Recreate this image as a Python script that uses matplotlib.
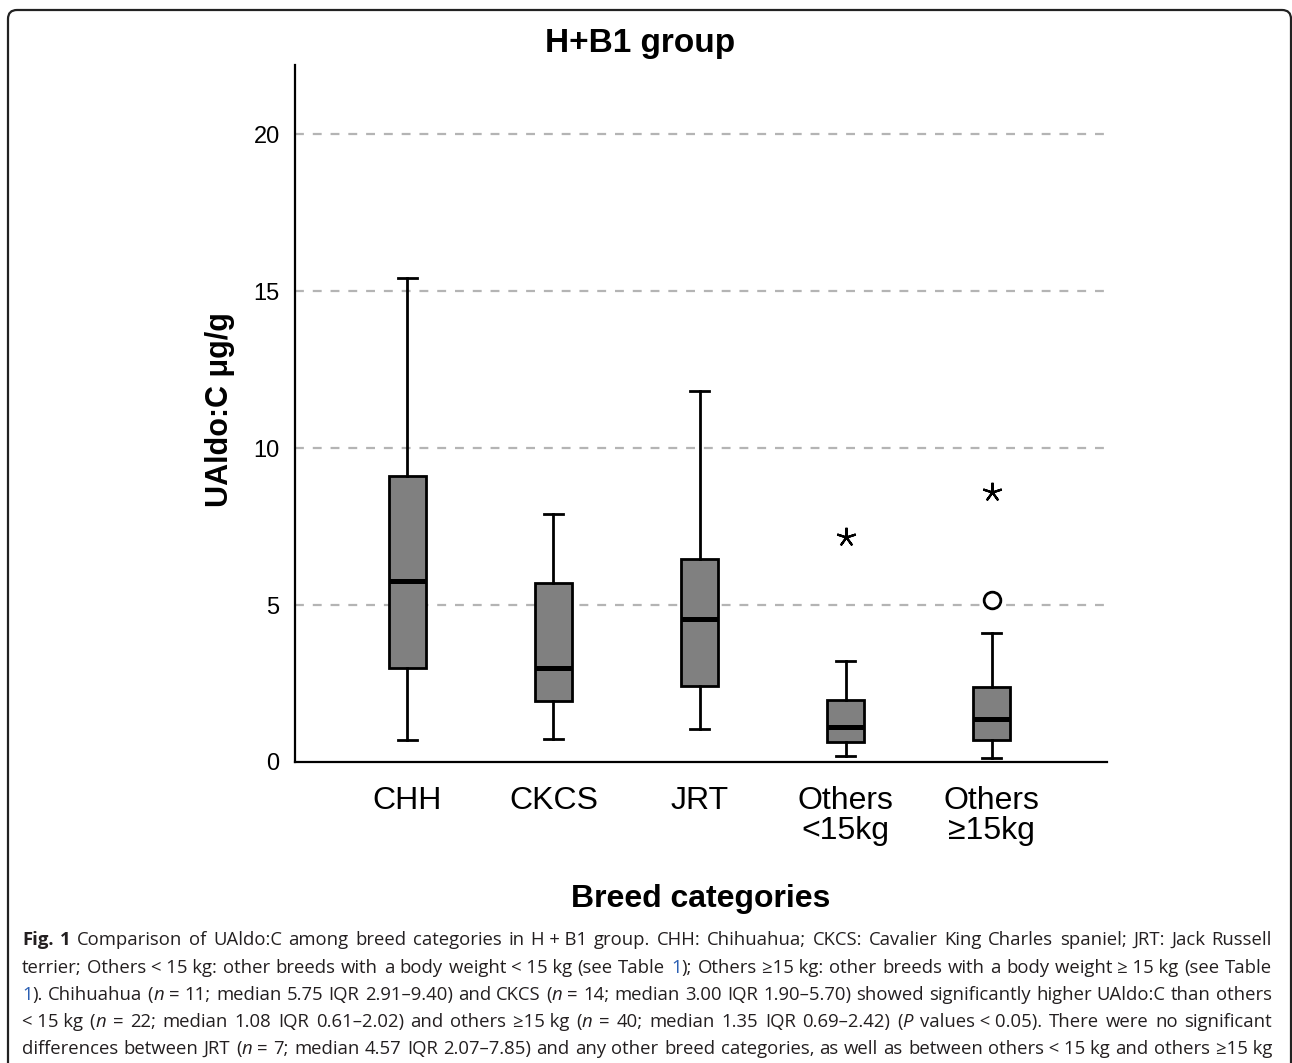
import matplotlib
matplotlib.use("Agg")
import matplotlib.pyplot as plt
from matplotlib.patches import FancyBboxPatch
import logging
logging.getLogger('matplotlib.font_manager').setLevel(logging.ERROR)

# ---------------- data ----------------
categories = ["CHH", "CKCS", "JRT", "Others\n<15kg", "Others\n\u226515kg"]
medians = [5.75, 3.00, 4.56, 1.11, 1.37]
q1 = [2.98, 1.94, 2.41, 0.63, 0.69]
q3 = [9.12, 5.69, 6.45, 1.96, 2.40]
whisker_low = [0.70, 0.73, 1.06, 0.18, 0.12]
whisker_high = [15.41, 7.90, 11.81, 3.23, 4.11]
outliers = [[], [], [], [], [5.17]]          # circles
extremes = [[], [], [], [7.17], [8.60]]      # asterisks
yticks = [0, 5, 10, 15, 20]

title = "H+B1 group"
ylabel = "UAldo:C \u03bcg/g"
xlabel = "Breed categories"

caption_lines = [
    [("Fig. 1", "bold"), (" Comparison of UAldo:C among breed categories in H\u00a0+\u00a0B1 group. CHH: Chihuahua; CKCS: Cavalier King Charles spaniel; JRT: Jack Russell", "")],
    [("terrier; Others\u00a0<\u00a015\u00a0kg: other breeds with a body weight\u00a0<\u00a015\u00a0kg (see Table ", ""), ("1", "blue"), ("); Others \u226515\u00a0kg: other breeds with a body weight\u00a0\u2265\u00a015\u00a0kg (see Table", "")],
    [("1", "blue"), ("). Chihuahua (", ""), ("n", "italic"), (" = 11; median 5.75 IQR 2.91\u20139.40) and CKCS (", ""), ("n", "italic"), (" = 14; median 3.00 IQR 1.90\u20135.70) showed significantly higher UAldo:C than others", "")],
    [("<\u00a015\u00a0kg (", ""), ("n", "italic"), (" = 22; median 1.08 IQR 0.61\u20132.02) and others \u226515\u00a0kg (", ""), ("n", "italic"), (" = 40; median 1.35 IQR 0.69\u20132.42) (", ""), ("P", "italic"), (" values\u00a0<\u00a00.05). There were no significant", "")],
    [("differences between JRT (", ""), ("n", "italic"), (" = 7; median 4.57 IQR 2.07\u20137.85) and any other breed categories, as well as between others\u00a0<\u00a015\u00a0kg and others \u226515\u00a0kg", "")],
]

# ---------------- figure ----------------
W, H = 1292, 1063
fig = plt.figure(figsize=(W / 100, H / 100), dpi=100)
fig.patch.set_facecolor("white")

narrow = ["Liberation Sans Narrow", "Liberation Sans", "DejaVu Sans"]
sans = ["Liberation Sans", "DejaVu Sans"]

# frame
frame = FancyBboxPatch((8, -30), 1283, (H - 10) + 30, boxstyle="round,pad=0,rounding_size=9",
                       transform=None, facecolor="none", edgecolor="#222222", linewidth=1.6)
fig.add_artist(frame)

ax_l, ax_r, ax_t, ax_b = 295, 1107, 65, 762
ax = fig.add_axes([ax_l / W, (H - ax_b) / H, (ax_r - ax_l) / W, (ax_b - ax_t) / H])

positions = list(range(1, len(categories) + 1))
stats = []
for i in range(len(categories)):
    stats.append(dict(med=medians[i], q1=q1[i], q3=q3[i], whislo=whisker_low[i],
                      whishi=whisker_high[i], fliers=[], label=categories[i]))

ax.bxp(stats, positions=positions, widths=0.255, capwidths=0.135, patch_artist=True,
       showfliers=False,
       boxprops=dict(facecolor="#808080", edgecolor="black", linewidth=2.0),
       medianprops=dict(color="black", linewidth=3.6, solid_capstyle="butt"),
       whiskerprops=dict(color="black", linewidth=2.0),
       capprops=dict(color="black", linewidth=2.0), zorder=3)

for i, p in enumerate(positions):
    if outliers[i]:
        ax.plot([p] * len(outliers[i]), outliers[i], linestyle="none", marker="o",
                markersize=12, markerfacecolor="white", markeredgecolor="black",
                markeredgewidth=2.0, zorder=4)
    if extremes[i]:
        ax.plot([p] * len(extremes[i]), extremes[i], linestyle="none", marker=(5, 2, 0),
                markersize=14, color="black", markeredgewidth=1.6, zorder=4)

ax.set_xlim(0.23, 5.79)
ax.set_ylim(0, 22.2)
ax.set_yticks(yticks)
ax.set_yticklabels([str(t) for t in yticks], fontfamily=narrow, fontsize=17)
ax.set_xticks(positions)
ax.set_xticklabels(categories, fontfamily=narrow, fontsize=23, linespacing=1.0)
ax.tick_params(axis="both", length=0)
ax.tick_params(axis="y", pad=11)
ax.tick_params(axis="x", pad=17)
for s in ["top", "right"]:
    ax.spines[s].set_visible(False)
for s in ["left", "bottom"]:
    ax.spines[s].set_linewidth(1.6)
    ax.spines[s].set_color("black")
for t in [5, 10, 15, 20]:
    ax.axhline(t, color="#b4b4b4", linewidth=1.6, linestyle=(0, (4, 4)), zorder=1)

# titles
fig.text(640 / W, (H - 52) / H, title, fontfamily=sans, fontweight="bold", fontsize=24,
         ha="center", va="baseline")
fig.text(220 / W, (H - 410) / H, ylabel, fontfamily=sans, fontweight="bold", fontsize=22,
         ha="center", va="center", rotation=90)
fig.text(701 / W, (H - 907) / H, xlabel, fontfamily=sans, fontweight="bold", fontsize=23,
         ha="center", va="baseline")

# ---------------- caption (justified) ----------------
cap_family = ["Open Sans", "DejaVu Sans"]
renderer = fig.canvas.get_renderer()


def props(style, fs):
    d = dict(fontfamily=cap_family, fontsize=fs, color="#231f20")
    if style == "bold":
        d["fontweight"] = "bold"
    if style == "italic":
        d["fontstyle"] = "italic"
    if style == "blue":
        d["color"] = "#2b5fb3"
    return d


def split_words(line):
    words = [[]]
    for text, st in line:
        parts = text.split(" ")
        for k, p in enumerate(parts):
            if k > 0:
                words.append([])
            if p:
                words[-1].append((p, st))
    return [w for w in words if w]


def measure(text, style, fs):
    t = fig.text(0, 0, text, **props(style, fs))
    w = t.get_window_extent(renderer).width
    t.remove()
    return w


left_x, right_x = 22, 1272
target = right_x - left_x
fs0 = 14
space0 = measure("a a", "", fs0) - measure("aa", "", fs0)
nat = []
all_words = [split_words(l) for l in caption_lines]
for words in all_words:
    tot = sum(measure(p, st, fs0) for w in words for p, st in w)
    nat.append(tot + space0 * (len(words) - 1))
fs = min(fs0 * target / max(nat) * 0.995, 14.5)

baselines = [945, 973, 1000, 1027, 1054]
for words, yb in zip(all_words, baselines):
    widths = [[measure(p, st, fs) for p, st in w] for w in words]
    tot = sum(sum(ws) for ws in widths)
    gap = (target - tot) / (len(words) - 1)
    x = left_x
    for w, ws in zip(words, widths):
        xx = x
        for (p, st), pw in zip(w, ws):
            fig.text(xx / W, (H - yb) / H, p, ha="left", va="baseline", **props(st, fs))
            xx += pw
        x = xx + gap

fig.savefig("out.png", dpi=100)
